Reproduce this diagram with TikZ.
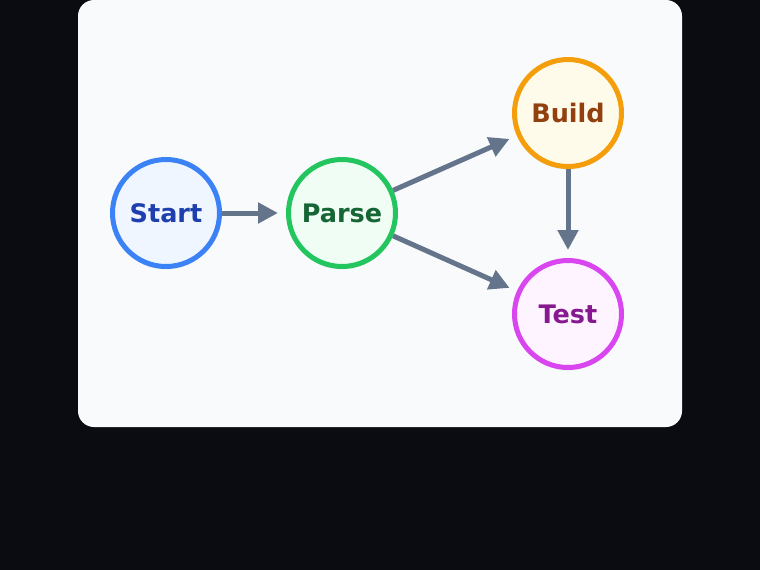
\documentclass[tikz,border=0pt]{standalone}
\usepackage{fontspec}
\setmainfont{DejaVu Sans}
\usetikzlibrary{arrows.meta, shadows}
\definecolor{darkbg}{HTML}{0B0C12}
\definecolor{panelbg}{HTML}{F8FAFC}
\definecolor{edgegray}{HTML}{64748B}
\definecolor{startline}{HTML}{3B82F6}
\definecolor{startfill}{HTML}{EFF6FF}
\definecolor{starttext}{HTML}{1E40AF}
\definecolor{parseline}{HTML}{22C55E}
\definecolor{parsefill}{HTML}{F0FDF4}
\definecolor{parsetext}{HTML}{166534}
\definecolor{buildline}{HTML}{F59E0B}
\definecolor{buildfill}{HTML}{FFFBEB}
\definecolor{buildtext}{HTML}{92400E}
\definecolor{testline}{HTML}{D946EF}
\definecolor{testfill}{HTML}{FDF4FF}
\definecolor{testtext}{HTML}{86198F}

\begin{document}
\begin{tikzpicture}[
				x=1pt, y=-1pt,
				stage/.style={circle, draw, line width=5pt, minimum size=107pt, inner sep=0pt,
						font=\fontsize{25.5}{30}\selectfont\bfseries,
						drop shadow={opacity=0.12, shadow xshift=0pt, shadow yshift=-3pt}},
				flow/.style={draw=edgegray, line width=5pt, -{Triangle[length=20pt, width=20pt]}, shorten >=8pt}
			]
			\useasboundingbox (0,0) rectangle (760,570);
			\fill[darkbg] (0,0) rectangle (760,570);
			\fill[panelbg, rounded corners=16pt] (78,0) rectangle (682,427);

			\node[stage, draw=startline, fill=startfill, text=starttext] (start) at (166,213) {Start};
			\node[stage, draw=parseline, fill=parsefill, text=parsetext] (parse) at (342,213) {Parse};
			\node[stage, draw=buildline, fill=buildfill, text=buildtext] (build) at (568,113) {Build};
			\node[stage, draw=testline, fill=testfill, text=testtext] (test) at (568,314) {Test};

			\draw[flow] (start) -- (parse);
			\draw[flow] (parse) -- (build);
			\draw[flow] (parse) -- (test);
			\draw[flow] (build) -- (test);
		\end{tikzpicture}
\end{document}
